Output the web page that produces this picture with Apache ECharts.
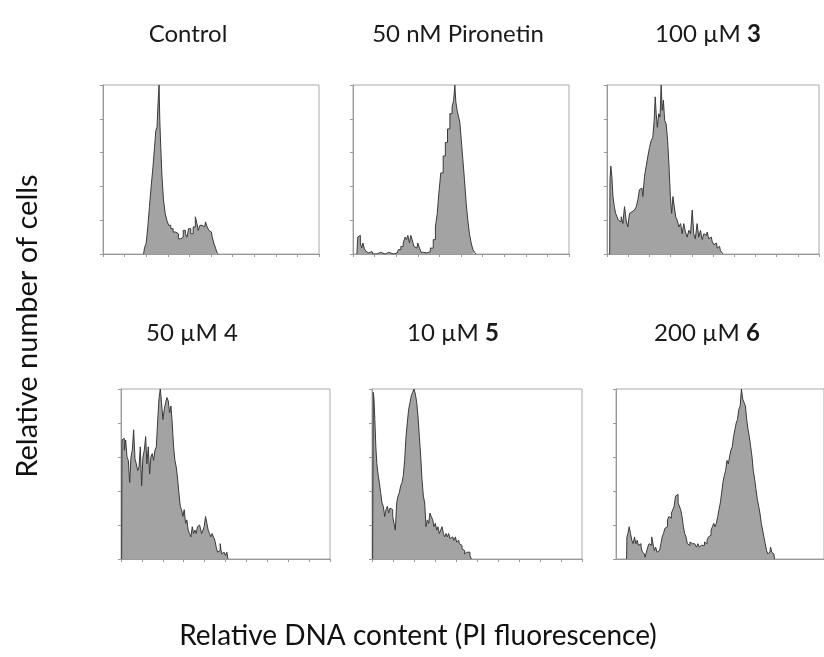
<!DOCTYPE html>
<html><head><meta charset="utf-8">
<script src="https://cdn.jsdelivr.net/npm/echarts@6/dist/echarts.min.js"></script>
<style>html,body{margin:0;padding:0;background:#fff}#c{width:824px;height:657px}</style>
</head><body><div id="c"></div>
<script>
// Relative number of cells (% of peak) vs DNA content channel (0-1000)
const control = [[188,0],[196,3.5],[204,6.5],[211,16],[219,28],[227,40],[235,51],[242,63],[247,73],[253,75],[258,91],[261,100],[265,79],[270,63],[276,46],[284,32],[292,24],[299,20],[309,17],[319,15],[330,13],[343,12],[355,9],[366,10],[377,14],[386,12],[392,10],[401,15],[412,12],[423,16],[432,22],[438,18],[444,14],[454,17],[463,18],[471,16],[478,19],[486,16],[494,14],[502,13],[509,10],[517,6.5],[525,3.5],[532,0.6],[537,0]];
const pironetin = [[18,0],[26,10],[31,11],[37,6.5],[43,3.5],[49,6.5],[57,3],[65,1.5],[73,0.6],[88,1.5],[96,0],[127,1],[134,0],[165,1],[173,0],[204,0.6],[216,2.6],[227,4.5],[238,6.5],[245,10],[250,8.5],[258,11],[265,6.5],[270,11],[278,8.5],[285,4.5],[296,3.5],[304,6.5],[312,3.5],[319,1],[335,0.6],[350,1.5],[366,3.5],[377,8.5],[386,16],[394,24],[401,36],[412,48],[423,58],[432,66],[443,74],[454,83],[463,87],[469,91],[474,100],[478,90],[486,85],[492,81],[497,78],[505,68],[512,56],[520,44],[528,30],[535,20],[543,12],[551,6.5],[559,2.6],[566,1],[571,0]];
const cmpd3 = [[12.6,0],[15.7,44],[20.4,52],[25.2,46],[31.4,34],[37.7,28],[44,24],[50.3,22],[56.6,20],[62.9,19],[70.8,22],[78.6,18],[86.5,28],[94.3,20],[102,16],[110,24],[118,25],[126,26],[134,25],[142,28],[149,32],[157,38],[165,39],[173,34],[181,46],[189,52],[197,58],[204,63],[212,67],[220,69],[225,79],[230,93],[234,83],[241,75],[247,83],[253,81],[258,100],[263,85],[269,91],[275,79],[283,77],[289,67],[296,52],[302,34],[308,24],[314,34],[321,28],[327,22],[335,20],[343,16],[351,18],[358,12],[366,18],[374,13],[382,10],[390,14],[398,12],[406,26],[412,12],[421,9],[429,18],[437,10],[445,14],[453,8.5],[461,12],[469,11],[476,13],[484,9],[492,10],[500,7.5],[508,5.5],[516,6.5],[524,3.5],[531,4.5],[539,2],[547,0.6],[550,0]];
const cmpd4 = [[3.2,0],[6.4,70],[12.7,71],[19.1,64],[25.5,70],[31.8,60],[38.2,58],[44.6,45],[51,60],[57.3,64],[63.7,76],[70.1,59],[76.4,56],[82.8,52],[89.2,54],[95.5,66],[102,43],[108,60],[115,64],[121,72],[127,56],[134,66],[140,50],[146,60],[153,62],[159,58],[166,64],[172,66],[178,80],[185,94],[191,100],[197,92],[204,82],[210,88],[217,92],[223,95],[229,93],[236,86],[242,90],[248,80],[255,66],[261,58],[268,54],[274,47],[280,39],[287,31],[293,29],[299,25],[306,29],[312,21],[318,23],[325,17],[331,15],[338,13],[344,19],[350,15],[357,17],[363,15],[369,19],[376,20],[382,19],[389,15],[395,17],[401,19],[408,25],[414,21],[420,17],[427,15],[433,13],[439,15],[446,13],[452,11],[459,7],[465,4],[471,5],[478,9],[484,3],[490,4],[497,5],[503,2],[510,4],[513,0]];
const cmpd5 = [[3.2,0],[4.8,35],[7.9,98],[11.1,94],[15.9,82],[20.6,66],[25.4,56],[31.7,50],[38.1,45],[44.4,39],[50.8,33],[57.1,31],[63.5,25],[69.8,29],[76.2,31],[82.5,27],[88.9,30],[95.2,29],[102,25],[108,21],[114,17],[121,33],[127,37],[133,39],[140,43],[146,45],[152,49],[159,58],[165,72],[171,80],[178,88],[184,92],[190,96],[197,98],[203,100],[210,97],[216,92],[222,84],[229,72],[235,60],[241,47],[248,37],[254,33],[260,19],[267,23],[273,21],[279,27],[286,25],[292,23],[298,19],[305,21],[311,17],[317,19],[324,15],[330,17],[337,19],[343,15],[349,13],[356,15],[362,13],[368,15],[375,12],[381,13],[387,14],[394,11],[400,13],[406,10],[413,11],[419,9],[425,8],[432,6],[438,5],[444,3],[451,4],[457,3],[463,4],[470,2],[476,0]];
const cmpd6 = [[50.8,0],[54,13],[60.3,15],[66.7,19],[73,15],[79.4,11],[85.7,9],[92.1,13],[98.4,9],[105,11],[111,8],[117,9],[124,7],[130,4],[137,3],[143,1],[149,4],[156,7],[162,9],[168,8],[175,13],[181,9],[187,5],[194,7],[200,4],[206,5],[213,4],[219,9],[225,13],[232,15],[238,18],[244,19],[251,23],[257,25],[263,24],[270,27],[276,29],[283,31],[289,37],[295,38],[302,33],[308,33],[314,29],[321,25],[327,19],[333,15],[340,13],[346,9],[352,8],[359,10],[365,9],[371,8],[378,9],[384,8],[390,7],[397,9],[403,7],[410,8],[416,9],[422,8],[429,10],[435,9],[441,11],[448,13],[454,14],[460,17],[467,19],[473,21],[479,19],[486,21],[492,25],[498,29],[505,33],[511,39],[517,45],[524,49],[530,52],[537,58],[543,56],[549,60],[556,64],[562,66],[568,72],[575,76],[581,80],[587,82],[594,88],[600,90],[606,100],[613,94],[619,92],[625,90],[632,82],[638,76],[644,72],[651,66],[657,60],[663,52],[670,47],[676,41],[683,35],[689,31],[695,27],[702,21],[708,17],[714,13],[721,9],[727,5],[733,3],[740,4],[746,7],[752,4],[759,3],[765,0]];

const panelTitles = ['Control', '50 nM Pironetin', '100 µM {b|3}', '50 µM 4', '10 µM {b|5}', '200 µM {b|6}'];
const panelData = [control, pironetin, cmpd3, cmpd4, cmpd5, cmpd6];
const xTitle = 'Relative DNA content (PI fluorescence)';
const yTitle = 'Relative number of cells';

const boxes = [
  {left:103, top:85, width:216, height:169, tx:188, ty:34},
  {left:353, top:85, width:216, height:169, tx:458, ty:34},
  {left:607, top:85, width:212, height:169, tx:708, ty:34},
  {left:121, top:389, width:209, height:170, tx:192, ty:333},
  {left:372, top:389, width:210, height:170, tx:453, ty:333},
  {left:616, top:389, width:210, height:170, tx:707, ty:333}
];
const FONT = 'Lato';
const grids = [], xAxes = [], yAxes = [], series = [], graphics = [];
boxes.forEach((b, i) => {
  grids.push({left:b.left, top:b.top, width:b.width, height:b.height, show:true, borderColor:'#aaa', borderWidth:1, backgroundColor:'#fff'});
  xAxes.push({type:'value', gridIndex:i, min:0, max:1000, interval:100,
    axisLine:{show:true, onZero:false, lineStyle:{color:'#999', width:1}},
    axisTick:{show:i!==5, length:3, lineStyle:{color:'#999'}},
    axisLabel:{show:false}, splitLine:{show:false}});
  yAxes.push({type:'value', gridIndex:i, min:0, max:100, interval:20,
    axisLine:{show:true, lineStyle:{color:'#999', width:1}},
    axisTick:{show:true, length:3, lineStyle:{color:'#999'}},
    axisLabel:{show:false}, splitLine:{show:false}});
  series.push({type:'line', xAxisIndex:i, yAxisIndex:i, data:panelData[i], step:'middle', symbol:'none',
    lineStyle:{color:'#3a3a3a', width:1}, areaStyle:{color:'#a3a3a3', opacity:1}, silent:true, z:3});
  graphics.push({type:'text', x:b.tx, y:b.ty, style:{text:panelTitles[i], fontFamily:FONT, fontSize:24, fill:'#1a1a1a',
    align:'center', verticalAlign:'middle',
    rich:{b:{fontFamily:FONT, fontSize:24, fontWeight:'bold', fill:'#1a1a1a'}}}});
});
graphics.push({type:'text', x:418, y:636, style:{text:xTitle, fontFamily:FONT, fontSize:28, fill:'#111', align:'center', verticalAlign:'middle'}});
graphics.push({type:'text', x:28, y:326, rotation:Math.PI/2, style:{text:yTitle, fontFamily:FONT, fontSize:29, fill:'#111', align:'center', verticalAlign:'middle'}});

const chart = echarts.init(document.getElementById('c'), null, {renderer:'canvas'});
chart.setOption({
  backgroundColor:'#fff',
  animation:false,
  grid:grids, xAxis:xAxes, yAxis:yAxes, series:series,
  graphic:graphics
});
</script></body></html>
